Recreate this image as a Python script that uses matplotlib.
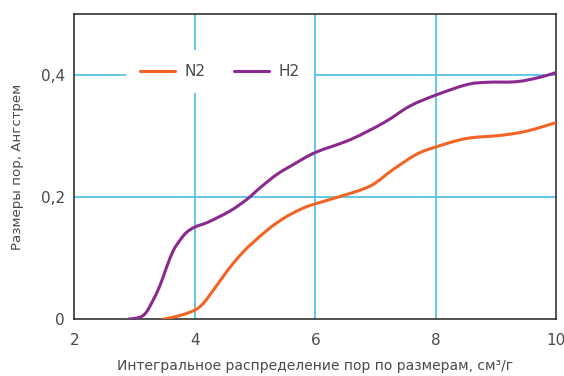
import matplotlib
matplotlib.use("Agg")
import matplotlib.pyplot as plt
from matplotlib.path import Path
from matplotlib.patches import PathPatch
from matplotlib.lines import Line2D

# Integral pore-size distribution (cm^3/g) vs pore size
n2_x = [3.47, 3.75, 4.00, 4.14, 4.31, 4.47, 4.64, 4.83, 4.96, 5.24, 5.52,
        5.80, 6.00, 6.41, 6.91, 7.29, 7.68, 8.00, 8.51, 9.07, 9.51, 10.00]
n2_y = [0.000, 0.006, 0.015, 0.026, 0.048, 0.070, 0.092, 0.113, 0.125, 0.149,
        0.168, 0.182, 0.189, 0.201, 0.218, 0.245, 0.270, 0.282, 0.296, 0.301,
        0.308, 0.322]

h2_x = [2.89, 3.08, 3.19, 3.30, 3.42, 3.53, 3.64, 3.75, 3.86, 4.00, 4.22,
        4.58, 4.86, 5.08, 5.36, 5.63, 6.00, 6.58, 7.14, 7.57, 8.00, 8.51,
        8.84, 9.34, 9.72, 10.00]
h2_y = [0.000, 0.003, 0.011, 0.030, 0.055, 0.085, 0.112, 0.129, 0.142, 0.151,
        0.159, 0.177, 0.196, 0.215, 0.237, 0.253, 0.273, 0.294, 0.322, 0.349,
        0.367, 0.384, 0.388, 0.389, 0.396, 0.404]

x_ticks = [2, 4, 6, 8, 10]
y_ticks = [0, 0.2, 0.4]
y_tick_labels = ["0", "0,2", "0,4"]

series_labels = ["N2", "H2"]
x_label = "Интегральное распределение пор по размерам, см³/г"
y_label = "Размеры пор, Ангстрем"

orange = "#F26424"
purple = "#8B2A8E"
grid_blue = "#5BC2EA"
text_grey = "#4a4a4a"


def smooth_path(xs, ys):
    """Catmull-Rom curve through the points, expressed as cubic Bezier segments."""
    pts = list(zip(xs, ys))
    n = len(pts)
    verts = [pts[0]]
    codes = [Path.MOVETO]
    for i in range(n - 1):
        p0 = pts[i - 1] if i > 0 else pts[i]
        p1 = pts[i]
        p2 = pts[i + 1]
        p3 = pts[i + 2] if i + 2 < n else pts[i + 1]
        c1 = (p1[0] + (p2[0] - p0[0]) / 6, p1[1] + (p2[1] - p0[1]) / 6)
        c2 = (p2[0] - (p3[0] - p1[0]) / 6, p2[1] - (p3[1] - p1[1]) / 6)
        verts += [c1, c2, p2]
        codes += [Path.CURVE4] * 3
    return Path(verts, codes)


plt.rcParams["font.family"] = ["DejaVu Sans"]

fig = plt.figure(figsize=(5.64, 3.76), dpi=100)
ax = fig.add_axes([0.132, 0.151, 0.854, 0.812])

for xv in x_ticks[1:-1]:
    ax.axvline(xv, color=grid_blue, lw=1.3, zorder=1)
for yv in y_ticks[1:]:
    ax.axhline(yv, color=grid_blue, lw=1.3, zorder=1)

for xs, ys, col in [(n2_x, n2_y, orange), (h2_x, h2_y, purple)]:
    ax.add_patch(PathPatch(smooth_path(xs, ys), fill=False, edgecolor=col,
                           lw=2.2, capstyle="round", zorder=3))

ax.set_xlim(2, 10)
ax.set_ylim(0, 0.5)
ax.set_xticks(x_ticks)
ax.set_yticks(y_ticks)
ax.set_yticklabels(y_tick_labels)
ax.tick_params(length=0, labelsize=11, colors=text_grey, pad=7)
ax.tick_params(axis="x", pad=10)

for s in ax.spines.values():
    s.set_color("#222222")
    s.set_linewidth(1.1)

ax.set_xlabel(x_label, fontsize=10, color=text_grey, labelpad=8)
ax.set_ylabel(y_label, fontsize=9.6, color=text_grey, labelpad=12)

handles = [Line2D([], [], color=orange, lw=2.2, solid_capstyle="round"),
           Line2D([], [], color=purple, lw=2.2, solid_capstyle="round")]
leg = ax.legend(handles, series_labels, loc="center",
                bbox_to_anchor=(0.302, 0.811), ncol=2,
                frameon=True, fancybox=False, framealpha=1, facecolor="white",
                edgecolor="none", fontsize=11, handlelength=2.3,
                handletextpad=0.6, columnspacing=1.9, borderpad=0.9,
                labelcolor=text_grey)
leg.set_zorder(2)

fig.savefig("out.png", dpi=100)
